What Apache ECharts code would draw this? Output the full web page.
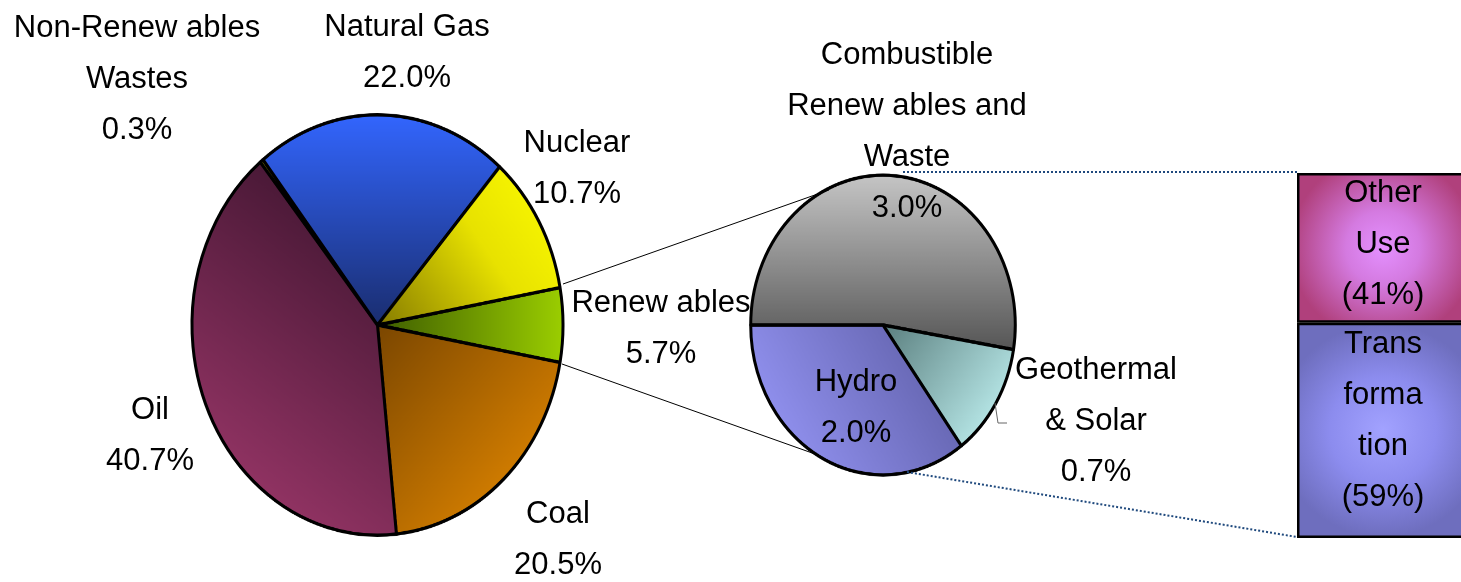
<!DOCTYPE html>
<html>
<head>
<meta charset="utf-8">
<script src="https://cdn.jsdelivr.net/npm/echarts@6/dist/echarts.min.js"></script>
<style>
html, body { margin: 0; padding: 0; background: #ffffff; }
#wrap { position: relative; width: 1461px; height: 582px; overflow: hidden; background: #ffffff; }
#pies { position: absolute; left: 0; top: 0; width: 1461px; height: 582px; transform: scaleY(1.133); transform-origin: 0 325px; }
#over { position: absolute; left: 0; top: 0; width: 1461px; height: 582px; }
</style>
</head>
<body>
<div id="wrap"><div id="pies"></div><div id="over"></div></div>
<script>
// ---- data ----
const mainLabels = ['Renew ables', 'Coal', 'Oil', 'Non-Renew ables\nWastes', 'Natural Gas', 'Nuclear'];
const mainValues = [5.7, 20.5, 40.7, 0.3, 22.0, 10.7];
const subLabels = ['Combustible\nRenew ables and\nWaste', 'Geothermal\n& Solar', 'Hydro'];
const subValues = [3.0, 0.7, 2.0];
const barLabels = ['Trans\nforma\ntion', 'Other\nUse'];
const barValues = [59, 41];
const barCategory = ['Renewables use'];

// ---- layout / style ----
const FONT = 'Liberation Sans, Arial, sans-serif';
const MAIN_C = [377.5, 325], MAIN_R = 185.5;
const SUB_C = [883, 325], SUB_R = 132.3;

function lin(x, y, x2, y2, stops) {
  return { type: 'linear', x: x, y: y, x2: x2, y2: y2,
    colorStops: stops.map(s => ({ offset: s[0], color: s[1] })) };
}
const mainColors = [
  lin(0, 0.5, 1, 0.5, [[0, '#3d5c00'], [1, '#9ccf00']]),
  lin(0, 0, 1, 1, [[0, '#7a4600'], [1, '#f09000']]),
  lin(0.9, 0.1, 0.1, 0.85, [[0, '#3f1530'], [1, '#963566']]),
  '#999900',
  lin(0.5, 1, 0.5, 0, [[0, '#1a2d6e'], [1, '#3366ff']]),
  lin(0, 1, 1, 0, [[0, '#857a00'], [0.55, '#e8e200'], [1, '#ffff00']])
];
const subColors = [
  lin(0.5, 0, 0.5, 1, [[0, '#c6c6c6'], [1, '#555555']]),
  lin(0, 0, 1, 1, [[0, '#5a7e7e'], [1, '#ccffff']]),
  lin(1, 0, 0, 1, [[0, '#5a5aa0'], [1, '#9c9cff']])
];
const barColors = [
  { type: 'radial', x: 0.5, y: 0.5, r: 0.62, colorStops: [
    { offset: 0, color: '#a2a2ff' }, { offset: 0.5, color: '#8c8cee' }, { offset: 1, color: '#6e6ebe' }] },
  { type: 'radial', x: 0.5, y: 0.5, r: 0.62, colorStops: [
    { offset: 0, color: '#e490ff' }, { offset: 0.4, color: '#d47ae0' }, { offset: 1, color: '#b0407c' }] }
];
const barLabelOffset = [[0, -9], [0, -3]];
const mainLabelPos = [[661, 329], [558, 540], [150, 436], [137, 79], [407, 53], [577, 169]];
const subLabelPos = [[907, 132], [1096, 421], [856, 408]];

const mainSum = mainValues.reduce((a, b) => a + b, 0);
const mainStart = mainValues[0] / mainSum * 180;

// ---- pies (drawn in a vertically stretched layer, as in the original) ----
const pieChart = echarts.init(document.getElementById('pies'), null, { renderer: 'canvas', devicePixelRatio: 2 });
pieChart.setOption({
  animation: false,
  series: [
    {
      type: 'pie', silent: true, center: MAIN_C, radius: MAIN_R,
      startAngle: mainStart, clockwise: true, avoidLabelOverlap: false,
      label: { show: false }, labelLine: { show: false },
      itemStyle: { borderColor: '#000', borderWidth: 3 },
      data: mainValues.map((v, i) => ({ name: mainLabels[i], value: v, itemStyle: { color: mainColors[i] } }))
    },
    {
      type: 'pie', silent: true, center: SUB_C, radius: SUB_R,
      startAngle: 180, clockwise: true, avoidLabelOverlap: false,
      label: { show: false }, labelLine: { show: false },
      itemStyle: { borderColor: '#000', borderWidth: 3 },
      data: subValues.map((v, i) => ({ name: subLabels[i], value: v, itemStyle: { color: subColors[i] } }))
    }
  ]
});

// ---- overlay: labels, bar, connectors ----
const labelStyle = { fontFamily: FONT, fontSize: 31, lineHeight: 51, color: '#000' };
function pctFmt(p) { return p.name + '\n' + Number(p.value).toFixed(1) + '%'; }

const over = echarts.init(document.getElementById('over'), null, { renderer: 'canvas' });
over.setOption({
  animation: false,
  grid: { left: 1297, top: 173, width: 172, height: 365, containLabel: false, outerBoundsMode: 'none' },
  xAxis: { type: 'category', data: barCategory, show: false },
  yAxis: { type: 'value', min: 0, max: 100, show: false },
  series: [
    ...barValues.map((v, i) => ({
      type: 'bar', stack: 'use', barWidth: '100%', silent: true,
      data: [v],
      itemStyle: { color: barColors[i], borderColor: '#000', borderWidth: 2.5 },
      label: Object.assign({ show: true, position: 'inside', offset: barLabelOffset[i],
        formatter: p => barLabels[i] + '\n(' + p.value + '%)' }, labelStyle)
    })),
    {
      type: 'pie', silent: true, center: MAIN_C, radius: MAIN_R,
      startAngle: mainStart, clockwise: true, avoidLabelOverlap: false,
      itemStyle: { color: 'rgba(0,0,0,0)', borderWidth: 0 },
      label: Object.assign({ show: true, position: 'inside', formatter: pctFmt, align: 'center' }, labelStyle),
      labelLine: { show: false },
      labelLayout: p => ({ x: mainLabelPos[p.dataIndex][0], y: mainLabelPos[p.dataIndex][1], align: 'center', verticalAlign: 'middle' }),
      data: mainValues.map((v, i) => ({ name: mainLabels[i], value: v }))
    },
    {
      type: 'pie', silent: true, center: SUB_C, radius: SUB_R,
      startAngle: 180, clockwise: true, avoidLabelOverlap: false,
      itemStyle: { color: 'rgba(0,0,0,0)', borderWidth: 0 },
      label: Object.assign({ show: true, position: 'inside', formatter: pctFmt, align: 'center' }, labelStyle),
      labelLine: { show: false },
      labelLayout: p => ({ x: subLabelPos[p.dataIndex][0], y: subLabelPos[p.dataIndex][1], align: 'center', verticalAlign: 'middle' }),
      data: subValues.map((v, i) => ({ name: subLabels[i], value: v }))
    }
  ],
  graphic: [
    { type: 'line', silent: true, shape: { x1: 563, y1: 284, x2: 829, y2: 190 }, style: { stroke: '#000', lineWidth: 1 } },
    { type: 'line', silent: true, shape: { x1: 562, y1: 364, x2: 815, y2: 454 }, style: { stroke: '#000', lineWidth: 1 } },
    { type: 'line', silent: true, shape: { x1: 903, y1: 172, x2: 1297, y2: 172 }, style: { stroke: '#1f497d', lineWidth: 2, lineDash: [2, 2] } },
    { type: 'line', silent: true, shape: { x1: 907, y1: 472, x2: 1297, y2: 537 }, style: { stroke: '#1f497d', lineWidth: 2, lineDash: [2, 2] } },
    { type: 'polyline', silent: true, shape: { points: [[995, 403], [998, 423], [1007, 423]] }, style: { stroke: '#666', lineWidth: 1, fill: null } }
  ]
});
</script>
</body>
</html>
